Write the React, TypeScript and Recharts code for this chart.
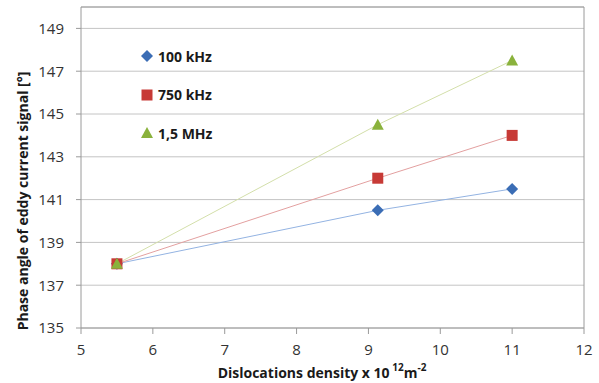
import {
  LineChart,
  Line,
  XAxis,
  YAxis,
  CartesianGrid,
  Legend,
  ReferenceLine,
} from "recharts";

const densities = [5.5, 9.13, 11];
const phase100k = [138, 140.5, 141.5];
const phase750k = [138, 142, 144];
const phase15M = [138, 144.5, 147.5];

const xTicks = [5, 6, 7, 8, 9, 10, 11, 12];
const yTicks = [135, 137, 139, 141, 143, 145, 147, 149];

const seriesNames = ["100 kHz", "750 kHz", "1,5 MHz"];

const data = densities.map((d, i) => ({
  density: d,
  f100: phase100k[i],
  f750: phase750k[i],
  f15: phase15M[i],
}));

const FONT = "'Open Sans', Lato, sans-serif";
const GRID = "#c4c4c4";
const AXIS = "#9a9a9a";

const markerColors = ["#3b6db5", "#c73a36", "#8ab23c"];
const lineColors = ["#93b3e2", "#e3a0a0", "#d3dfaa"];

function Marker({ kind, cx, cy }: { kind: number; cx: number; cy: number }) {
  if (cx == null || cy == null) return null;
  if (kind === 0) {
    const r = 6;
    return (
      <polygon
        points={`${cx},${cy - r} ${cx + r},${cy} ${cx},${cy + r} ${cx - r},${cy}`}
        fill={markerColors[0]}
      />
    );
  }
  if (kind === 1) {
    const s = 11;
    return (
      <rect x={cx - s / 2} y={cy - s / 2} width={s} height={s} fill={markerColors[1]} />
    );
  }
  return (
    <polygon
      points={`${cx},${cy - 6} ${cx + 6},${cy + 5} ${cx - 6},${cy + 5}`}
      fill={markerColors[2]}
    />
  );
}

const dotFor = (kind: number) => (props: any) =>
  <Marker key={`${kind}-${props.index}`} kind={kind} cx={props.cx} cy={props.cy} />;

function LegendBox() {
  return (
    <div style={{ fontFamily: FONT, fontWeight: 700, fontSize: 14, color: "#1a1a1a" }}>
      {seriesNames.map((name, i) => (
        <div
          key={name}
          style={{ display: "flex", alignItems: "center", height: 38.5 }}
        >
          <svg width={14} height={14} style={{ marginRight: 4 }}>
            <Marker kind={i} cx={7} cy={7} />
          </svg>
          <span>{name}</span>
        </div>
      ))}
    </div>
  );
}

function YLabel() {
  return (
    <text
      x={22}
      y={201}
      transform="rotate(-90 22 201)"
      textAnchor="middle"
      dominantBaseline="central"
      style={{ fontFamily: FONT, fontWeight: 700, fontSize: 14, fill: "#1a1a1a" }}
    >
      Phase angle of eddy current signal [°]
    </text>
  );
}

function XLabel() {
  return (
    <text
      x={322}
      y={372}
      textAnchor="middle"
      dominantBaseline="central"
      style={{ fontFamily: FONT, fontWeight: 700, fontSize: 14, fill: "#1a1a1a" }}
    >
      Dislocations density x 10
      <tspan fontSize={10} dy={-5}> 12</tspan>
      <tspan dy={5}>m</tspan>
      <tspan fontSize={10} dy={-5}>-2</tspan>
    </text>
  );
}

export default function App() {
  return (
    <div style={{ position: "absolute", left: 0, top: 0, background: "#fff" }}>
      <LineChart
        width={599}
        height={383}
        data={data}
        margin={{ top: 7, right: 15, left: 0, bottom: 0 }}
      >
        <CartesianGrid vertical={false} stroke={GRID} strokeWidth={1} />
        <XAxis
          type="number"
          dataKey="density"
          domain={[5, 12]}
          ticks={xTicks}
          height={55}
          tick={{ fontSize: 15, fill: "#333", fontFamily: FONT }}
          tickLine={{ stroke: AXIS }}
          tickSize={6}
          tickMargin={10}
          axisLine={{ stroke: AXIS }}
          label={<XLabel />}
        />
        <YAxis
          type="number"
          domain={[135, 150]}
          ticks={yTicks}
          width={81}
          tick={{ fontSize: 15, fill: "#333", fontFamily: FONT }}
          tickLine={{ stroke: AXIS }}
          tickSize={5}
          tickMargin={12}
          axisLine={{ stroke: AXIS }}
          label={<YLabel />}
        />
        <ReferenceLine y={150} stroke={AXIS} />
        <ReferenceLine x={12} stroke={AXIS} />
        <Legend
          layout="vertical"
          verticalAlign="middle"
          align="center"
          content={<LegendBox />}
          wrapperStyle={{ left: 140, top: 37, width: 120 }}
        />
        <Line
          dataKey="f100"
          stroke={lineColors[0]}
          strokeWidth={1}
          dot={dotFor(0)}
          activeDot={false}
          isAnimationActive={false}
        />
        <Line
          dataKey="f750"
          stroke={lineColors[1]}
          strokeWidth={1}
          dot={dotFor(1)}
          activeDot={false}
          isAnimationActive={false}
        />
        <Line
          dataKey="f15"
          stroke={lineColors[2]}
          strokeWidth={1}
          dot={dotFor(2)}
          activeDot={false}
          isAnimationActive={false}
        />
      </LineChart>
    </div>
  );
}
